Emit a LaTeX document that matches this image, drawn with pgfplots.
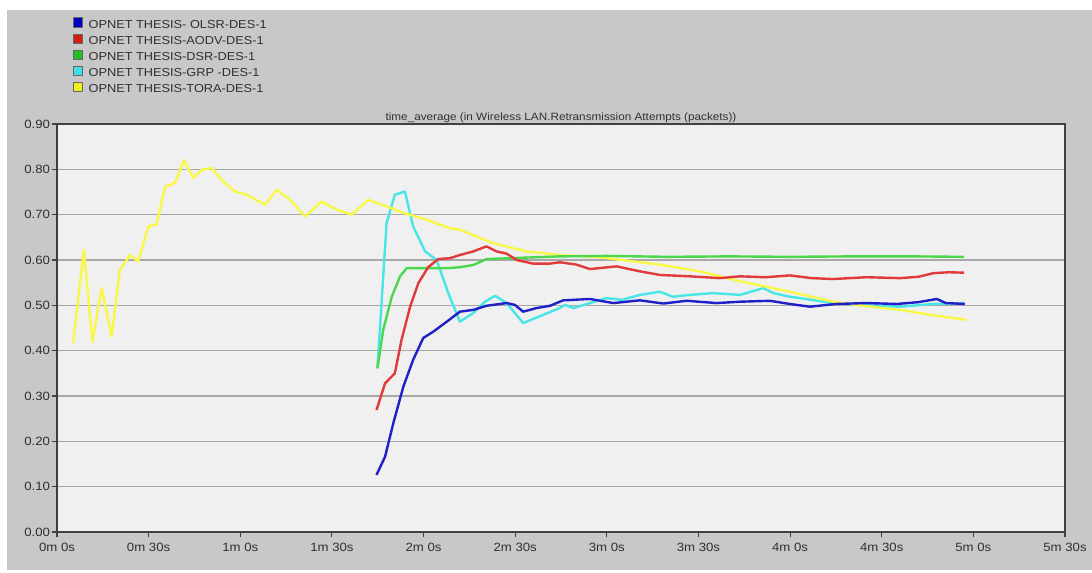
\documentclass[border=0pt]{standalone}
\usepackage{pgfplots}
\pgfplotsset{compat=1.18}
\usepackage{fontspec}
\setmainfont{Liberation Sans}[FakeStretch=1.1]
\definecolor{panelgray}{HTML}{C8C8C8}
\definecolor{plotbg}{HTML}{F0F0F0}
\definecolor{gridgray}{HTML}{A8A8A8}
\definecolor{txt}{HTML}{303030}
\definecolor{cblue}{HTML}{2020C8}
\definecolor{cred}{HTML}{E03A3A}
\definecolor{cgreen}{HTML}{4CD84C}
\definecolor{ccyan}{HTML}{48E6E6}
\definecolor{cyellow}{HTML}{F8F848}
\definecolor{lblue}{HTML}{0000C0}
\definecolor{lred}{HTML}{D02010}
\definecolor{lgreen}{HTML}{20C020}
\definecolor{lcyan}{HTML}{40E0E0}
\definecolor{lyellow}{HTML}{F0F020}

\pgfplotstableread{
t v
5.3 0.417
8.8 0.622
11.6 0.420
14.6 0.538
17.9 0.431
20.6 0.578
23.9 0.611
26.6 0.597
29.9 0.674
32.6 0.678
35.4 0.762
38.6 0.770
41.6 0.820
44.6 0.781
47.4 0.799
50.6 0.803
54.4 0.773
58.3 0.751
62.1 0.744
68.1 0.722
71.9 0.755
76.3 0.733
81.2 0.696
86.6 0.729
91.6 0.711
96.5 0.700
101.9 0.733
107.9 0.718
113.4 0.704
121.0 0.689
128.6 0.670
131.9 0.667
142.8 0.637
153.7 0.619
164.6 0.611
177.7 0.606
185.0 0.600
197.0 0.590
210.5 0.575
223.6 0.553
232.3 0.541
240.0 0.530
254.1 0.508
265.0 0.498
276.0 0.490
287.0 0.478
297.8 0.468
}\tora

\pgfplotstableread{
t v
104.6 0.126
107.4 0.166
110.1 0.240
113.4 0.321
116.6 0.380
119.9 0.428
123.2 0.442
127.6 0.464
131.9 0.486
136.3 0.490
140.6 0.499
147.2 0.505
149.9 0.501
152.6 0.486
157.0 0.494
161.4 0.499
165.7 0.511
174.5 0.514
182.1 0.505
190.8 0.511
198.5 0.504
206.1 0.510
215.9 0.505
223.6 0.508
233.4 0.510
239.9 0.503
246.5 0.497
255.0 0.503
265.0 0.505
275.0 0.503
282.0 0.507
288.0 0.514
291.0 0.505
297.2 0.503
}\olsr

\pgfplotstableread{
t v
104.6 0.269
107.4 0.328
110.6 0.350
112.8 0.424
115.6 0.497
118.3 0.549
121.5 0.584
124.8 0.602
128.6 0.604
131.9 0.611
136.3 0.619
140.6 0.630
143.9 0.619
147.2 0.614
150.5 0.600
155.9 0.592
161.4 0.592
164.6 0.595
170.0 0.590
174.5 0.580
183.2 0.586
190.8 0.575
197.4 0.567
207.2 0.564
217.0 0.560
223.6 0.564
232.0 0.562
240.0 0.566
247.0 0.560
254.0 0.558
265.0 0.562
276.0 0.560
282.0 0.563
287.0 0.571
292.0 0.573
297.0 0.572
}\aodv

\pgfplotstableread{
t v
104.9 0.361
106.8 0.446
109.6 0.519
112.3 0.564
114.5 0.582
121.0 0.582
127.6 0.582
131.9 0.584
136.3 0.589
140.6 0.602
148.3 0.604
164.6 0.608
180.0 0.609
200.0 0.607
220.0 0.608
240.0 0.607
260.0 0.608
280.0 0.608
297.0 0.607
}\dsr

\pgfplotstableread{
t v
104.9 0.361
107.9 0.681
110.6 0.744
113.9 0.751
116.6 0.674
120.5 0.619
124.3 0.600
128.1 0.527
131.9 0.464
136.3 0.483
140.1 0.508
143.4 0.521
147.2 0.505
152.6 0.461
159.2 0.479
164.6 0.494
166.3 0.501
169.0 0.494
174.5 0.505
179.9 0.516
185.0 0.512
190.8 0.523
197.4 0.530
201.6 0.519
207.2 0.523
214.7 0.527
223.6 0.523
231.2 0.538
234.5 0.527
239.9 0.519
243.2 0.516
254.0 0.505
265.0 0.500
276.0 0.497
287.0 0.503
297.0 0.505
}\grp

\begin{document}
\begin{tikzpicture}[x=1pt,y=1pt]
\fill[white] (0,0) rectangle (819,429);
\fill[panelgray] (5.25,1.5) rectangle (819,421.5);
\useasboundingbox (0,0) rectangle (819,429);
\begin{axis}[
  at={(42.75pt,30pt)}, anchor=south west,
  scale only axis, width=756pt, height=306pt,
  xmin=0, xmax=330, ymin=0, ymax=0.9,
  axis background/.style={fill=plotbg},
  axis line style={draw=black!75, line width=1pt},
  tick pos=left, tick align=outside,
  major tick length=4pt,
  every tick/.style={black!75, line width=0.8pt},
  ymajorgrids, major grid style={gridgray, line width=1.2pt},
  xtick={0,30,60,90,120,150,180,210,240,270,300,330},
  xticklabels={0m 0s,0m 30s,1m 0s,1m 30s,2m 0s,2m 30s,3m 0s,3m 30s,4m 0s,4m 30s,5m 0s,5m 30s},
  ytick={0,0.1,0.2,0.3,0.4,0.5,0.6,0.7,0.8,0.9},
  yticklabel style={/pgf/number format/fixed, /pgf/number format/fixed zerofill, /pgf/number format/precision=2, inner sep=1pt},
  xticklabel style={yshift=-1pt},
  /pgf/number format/assume math mode=true,
  tick label style={font=\fontsize{9}{10}\selectfont, text=txt},
  title={time\_average (in Wireless LAN.Retransmission Attempts (packets))},
  title style={at={(0.5,1)}, anchor=base, yshift=-3pt, font=\fontsize{8}{9}\selectfont, text=txt, inner sep=0pt},
  legend style={at={(0.0156,1.2613)}, anchor=north west, draw=none, fill=none,
    inner sep=0pt, outer sep=0pt, row sep=2.1pt,
    nodes={inner sep=0pt, text height=7pt, text depth=2pt, font=\fontsize{8.7}{10}\selectfont, text=txt}},
  legend cell align=left,
  legend image code/.code={\draw[fill, draw=black!60, line width=0.5pt] (0pt,-1.6pt) rectangle (6.9pt,5.3pt); \path (10.8pt,0pt);},
  every axis plot/.append style={line width=1.8pt, line join=round},
]
\addlegendimage{lblue}
\addlegendentry{OPNET THESIS- OLSR-DES-1}
\addlegendimage{lred}
\addlegendentry{OPNET THESIS-AODV-DES-1}
\addlegendimage{lgreen}
\addlegendentry{OPNET THESIS-DSR-DES-1}
\addlegendimage{lcyan}
\addlegendentry{OPNET THESIS-GRP -DES-1}
\addlegendimage{lyellow}
\addlegendentry{OPNET THESIS-TORA-DES-1}
\addplot[ccyan, forget plot] table[x=t,y=v] {\grp};
\addplot[cyellow, forget plot] table[x=t,y=v] {\tora};
\addplot[cgreen, forget plot] table[x=t,y=v] {\dsr};
\addplot[cred, forget plot] table[x=t,y=v] {\aodv};
\addplot[cblue, forget plot] table[x=t,y=v] {\olsr};
\end{axis}
\end{tikzpicture}
\end{document}
